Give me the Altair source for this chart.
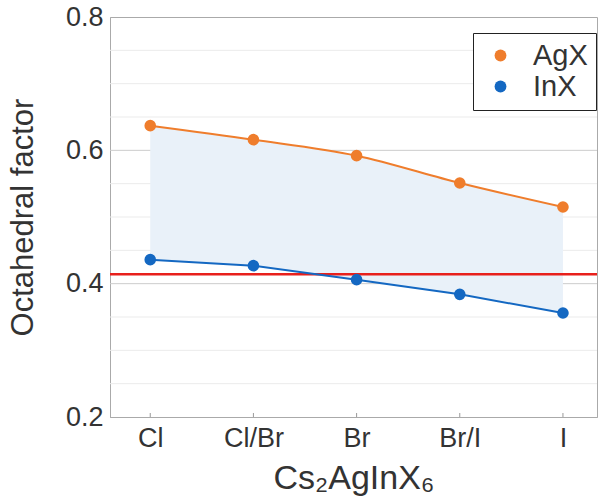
import json
import altair as alt
import pandas as pd

# Halide composition along the x axis
categories = ["Cl", "Cl/Br", "Br", "Br/I", "I"]
positions = [1, 2, 3, 4, 5]

# Octahedral factor for the two octahedra
agx = [0.637, 0.616, 0.592, 0.551, 0.515]
inx = [0.436, 0.427, 0.406, 0.384, 0.356]

series_names = ["AgX", "InX"]
series_colors = ["#ef7d2c", "#1468c2"]

# Lower stability limit of the octahedral factor
limit = 0.414

# Horizontal grid: light lines every 0.05, stronger ones at labelled values
y_labels = [0.2, 0.4, 0.6, 0.8]
y_grid_values = [0.25, 0.3, 0.35, 0.4, 0.45, 0.5, 0.55, 0.6, 0.65, 0.7, 0.75]

FONT = "Liberation Sans"
TEXT = "#333333"

long_df = pd.DataFrame(
    {
        "pos": positions * 2,
        "value": agx + inx,
        "series": ["AgX"] * len(agx) + ["InX"] * len(inx),
    }
)
wide_df = pd.DataFrame({"pos": positions, "agx": agx, "inx": inx})
limit_df = pd.DataFrame({"limit": [limit]})
tick_df = pd.DataFrame({"pos": positions})
grid_df = pd.DataFrame(
    {"g": y_grid_values, "major": [v in y_labels for v in y_grid_values]}
)

label_expr = json.dumps(categories) + "[round(datum.value) - 1]"

x_scale = alt.Scale(domain=[0.61, 5.33], nice=False, zero=False)
y_scale = alt.Scale(domain=[0.2, 0.8], nice=False, zero=False)

x_enc = alt.X(
    "pos:Q",
    scale=x_scale,
    axis=alt.Axis(
        values=positions,
        labelExpr=label_expr,
        title="Cs₂AgInX₆",
        grid=False,
        ticks=False,
        domainColor="#aaaaaa",
        labelFont=FONT,
        labelFontSize=27,
        labelColor=TEXT,
        labelPadding=8,
        titleFont=FONT,
        titleFontSize=34,
        titleFontWeight="normal",
        titleColor=TEXT,
        titlePadding=10,
    ),
)

y_axis = alt.Axis(
    values=y_labels,
    format=".1f",
    title="Octahedral factor",
    grid=False,
    ticks=False,
    domainColor="#aaaaaa",
    labelFont=FONT,
    labelFontSize=27,
    labelColor=TEXT,
    labelPadding=7,
    titleFont=FONT,
    titleFontSize=31,
    titleFontWeight="normal",
    titleColor=TEXT,
    titlePadding=26,
)

grid = (
    alt.Chart(grid_df)
    .mark_rule(strokeWidth=1)
    .encode(
        y=alt.Y("g:Q", scale=y_scale),
        color=alt.condition("datum.major", alt.value("#cccccc"), alt.value("#ebebeb")),
    )
)

band = (
    alt.Chart(wide_df)
    .mark_area(color="#e9f1f9", opacity=1)
    .encode(x=x_enc, y=alt.Y("agx:Q", scale=y_scale, axis=y_axis), y2="inx:Q")
)

# Small inward ticks on the bottom edge at each composition
inner_ticks = (
    alt.Chart(tick_df)
    .mark_rule(color="#999999", strokeWidth=1)
    .encode(x=alt.X("pos:Q", scale=x_scale), y=alt.value(400), y2=alt.value(396))
)

color_enc = alt.Color(
    "series:N",
    scale=alt.Scale(domain=series_names, range=series_colors),
    legend=alt.Legend(
        title=None,
        orient="none",
        legendX=363,
        legendY=16,
        strokeColor="#222222",
        fillColor="white",
        padding=8,
        labelFont=FONT,
        labelFontSize=29,
        labelColor=TEXT,
        labelLimit=200,
        symbolType="circle",
        symbolSize=140,
        symbolStrokeWidth=0,
        symbolOffset=5,
        rowPadding=1,
        labelOffset=18,
    ),
)

agx_line = (
    alt.Chart(long_df)
    .transform_filter("datum.series == 'AgX'")
    .mark_line(strokeWidth=2, interpolate="monotone")
    .encode(x=alt.X("pos:Q", scale=x_scale), y=alt.Y("value:Q", scale=y_scale), color=color_enc)
)

inx_line = (
    alt.Chart(long_df)
    .transform_filter("datum.series == 'InX'")
    .mark_line(strokeWidth=2)
    .encode(x=alt.X("pos:Q", scale=x_scale), y=alt.Y("value:Q", scale=y_scale), color=color_enc)
)

points = (
    alt.Chart(long_df)
    .mark_circle(size=135, opacity=1)
    .encode(x=alt.X("pos:Q", scale=x_scale), y=alt.Y("value:Q", scale=y_scale), color=color_enc)
)

limit_rule = (
    alt.Chart(limit_df)
    .mark_rule(color="#e8201c", strokeWidth=2.5)
    .encode(y=alt.Y("limit:Q", scale=y_scale))
)

chart = (
    alt.layer(grid, band, inner_ticks, limit_rule, agx_line, inx_line, points)
    .properties(
        width=487,
        height=400,
        autosize=alt.AutoSizeParams(type="none"),
        padding={"left": 110, "top": 17, "right": 3, "bottom": 83},
        background="white",
    )
    .configure_view(stroke="#aaaaaa", strokeWidth=1)
)

chart.save("out.html", embed_options={"renderer": "svg", "actions": False})
